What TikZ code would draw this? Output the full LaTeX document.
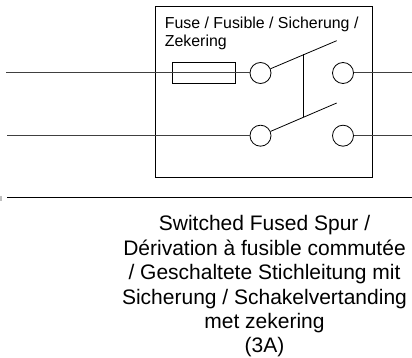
\documentclass[tikz,border=0pt]{standalone}
\usepackage{fontspec}
\setmainfont{Liberation Sans}
\tikzset{
	terminal/.style={draw, circle, inner sep=0pt, minimum size=21pt},
	fusebox/.style={draw, inner sep=0pt, minimum width=62.5pt, minimum height=20.5pt},
	wire/.style={line width=1pt, black!75},
}
\begin{document}
\begin{tikzpicture}[x=1pt, y=-1pt, line width=0.8pt]
		\useasboundingbox (0,0) rectangle (412,358);
		\node[draw, inner sep=0pt, minimum width=217pt, minimum height=170.5pt] (unit) at (264,91.75) {};
		\node[anchor=north west, align=left, inner sep=0pt, font=\fontsize{15.9}{18.4}\selectfont] (fuselabel) at (164.5,16.5) {Fuse / Fusible / Sicherung /\\Zekering};
		\node[fusebox] (fuse) at (203.75,73) {};
		\node[terminal] (inl) at (260.5,73) {};
		\node[terminal] (inn) at (260.5,135.7) {};
		\node[terminal] (outl) at (343,73) {};
		\node[terminal] (outn) at (343,135.7) {};
		\coordinate (linein) at (6,73);
		\coordinate (neutralin) at (7,135.7);
		\coordinate (lineout) at (412,73);
		\coordinate (neutralout) at (412,135.7);
		\coordinate (armtop) at (336.7,40.7);
		\coordinate (armbot) at (336.7,103);
		\coordinate (linktop) at (303,54.5);
		\coordinate (linkbot) at (303,117);
		\coordinate (earthin) at (7,197.5);
		\coordinate (earthout) at (412,197.5);
		\draw[wire] (linein) -- (inl);
		\draw[wire] (neutralin) -- (inn);
		\draw[wire] (outl) -- (lineout);
		\draw[wire] (outn) -- (neutralout);
		\draw (inl) -- (armtop);
		\draw (inn) -- (armbot);
		\draw (linktop) -- (linkbot);
		\draw[line width=1pt] (earthin) -- (earthout);
		\fill[black!25] (0,196) rectangle (1.5,201);
		\node[align=center, inner sep=0pt, font=\fontsize{21}{24.4}\selectfont] (caption) at (264.5,286.5) {Switched Fused Spur /\\Dérivation à fusible commutée\\/ Geschaltete Stichleitung mit\\Sicherung / Schakelvertanding\\met zekering\\(3A)};
	\end{tikzpicture}
\end{document}
